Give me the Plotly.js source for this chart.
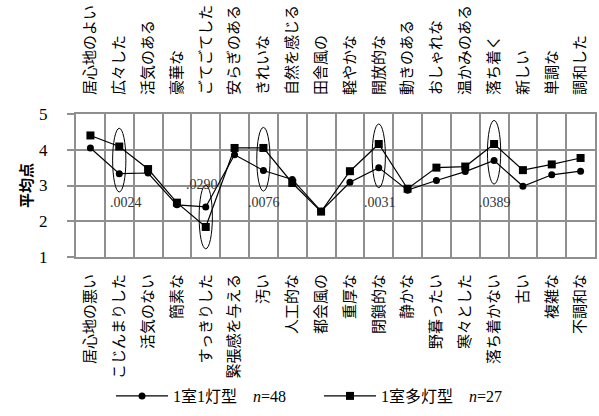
<!DOCTYPE html>
<html><head><meta charset="utf-8">
<script src="https://cdn.plot.ly/plotly-3.0.1.min.js"></script>
<style>html,body{margin:0;padding:0;background:#fff}#chart{width:599px;height:416px}</style>
</head><body><div id="chart"></div>
<script>
const topLabels = ['居心地のよい','広々した','活気のある','豪華な','ごてごてした','安らぎのある','きれいな','自然を感じる','田舎風の','軽やかな','開放的な','動きのある','おしゃれな','温かみのある','落ち着く','新しい','単調な','調和した'];
const bottomLabels = ['居心地の悪い','こじんまりした','活気のない','簡素な','すっきりした','緊張感を与える','汚い','人工的な','都会風の','重厚な','閉鎖的な','静かな','野暮ったい','寒々とした','落ち着かない','古い','複雑な','不調和な'];
const series1Name = '1室1灯型';
const series1N = 48;
const series1 = [4.05,3.33,3.35,2.46,2.40,3.86,3.42,3.17,2.28,3.09,3.50,2.87,3.14,3.39,3.70,2.98,3.30,3.40];
const series2Name = '1室多灯型';
const series2N = 27;
const series2 = [4.40,4.09,3.46,2.52,1.84,4.05,4.05,3.07,2.27,3.40,4.16,2.91,3.50,3.53,4.16,3.43,3.59,3.77];
const sigIndex = [1,4,6,10,14];
const sigP = ['.0024','.0290','.0076','.0031','.0389'];

// annotation placement (layout config)
const sigLabelY = [2.53, 3.03, 2.53, 2.53, 2.53];
const sigLabelShift = [7, -4, 1, 1, 1];

const idx = topLabels.map((_, i) => i);
const gridColor = '#8f8f8f';
const cjk = '"Noto Sans CJK JP", sans-serif';
const serif = '"Liberation Serif", "Noto Sans CJK JP", serif';
const nb = '\u00a0';

const traces = [
  {x: idx, y: series1, type: 'scatter', mode: 'lines+markers',
   name: series1Name + nb.repeat(4) + '<i>n</i>=' + series1N,
   line: {color: '#000', width: 1.2}, marker: {symbol: 'circle', size: 7, color: '#000'}},
  {x: idx, y: series2, type: 'scatter', mode: 'lines+markers',
   name: series2Name + nb.repeat(4) + '<i>n</i>=' + series2N,
   line: {color: '#000', width: 1.2}, marker: {symbol: 'square', size: 8, color: '#000'}},
  {x: idx, y: series1, xaxis: 'x2', type: 'scatter', mode: 'none', showlegend: false, hoverinfo: 'skip'}
];

const halfH = 0.89, halfW = 0.23;
const shapes = [], annotations = [];
sigIndex.forEach((i, k) => {
  const c = (series1[i] + series2[i]) / 2;
  shapes.push({type: 'circle', xref: 'x', yref: 'y', x0: i - halfW, x1: i + halfW,
    y0: c - halfH, y1: c + halfH, line: {color: '#000', width: 1}});
  annotations.push({x: i, y: sigLabelY[k], xref: 'x', yref: 'y',
    text: sigP[k], showarrow: false, xshift: sigLabelShift[k],
    font: {family: serif, size: 14, color: '#333'}});
});

const layout = {
  width: 599, height: 416,
  margin: {l: 76, r: 4, t: 114, b: 158},
  paper_bgcolor: '#fff', plot_bgcolor: '#fff',
  showlegend: true,
  xaxis: {range: [-0.5, 17.5], tickmode: 'array', tickvals: idx, ticktext: bottomLabels,
    tickangle: -90, tickfont: {family: cjk, size: 15, color: '#000'},
    showgrid: false, zeroline: false, showline: true, mirror: true, linecolor: gridColor, linewidth: 2,
    ticks: '', ticklabelstandoff: 9,
    minor: {tickmode: 'linear', tick0: -0.5, dtick: 1, showgrid: true, gridcolor: gridColor, gridwidth: 2, ticks: ''}},
  xaxis2: {overlaying: 'x', side: 'top', anchor: 'y', range: [-0.5, 17.5], tickmode: 'array', tickvals: idx,
    ticktext: topLabels, tickangle: -90, tickfont: {family: cjk, size: 15, color: '#000'},
    showgrid: false, zeroline: false, ticks: '', ticklabelstandoff: 18},
  yaxis: {range: [1, 5], tickmode: 'linear', tick0: 1, dtick: 1, showgrid: true, gridcolor: gridColor, gridwidth: 2,
    ticks: 'outside', ticklen: 7, tickwidth: 2, tickcolor: gridColor, ticklabelstandoff: 16,
    tickfont: {family: serif, size: 17, color: '#000'},
    title: {text: '<b>平均点</b>', font: {family: cjk, size: 15, color: '#000'}, standoff: 3},
    showline: true, mirror: true, linecolor: gridColor, linewidth: 2, zeroline: false},
  legend: {orientation: 'h', x: (111 - 76) / 519, xanchor: 'left', y: (258 - 396) / 144, yanchor: 'middle',
    font: {family: serif, size: 16, color: '#000'}, itemwidth: 52, entrywidth: 141, entrywidthmode: 'pixels',
    bgcolor: 'rgba(0,0,0,0)', traceorder: 'normal'},
  shapes: shapes,
  annotations: annotations
};

Plotly.newPlot('chart', traces, layout, {displayModeBar: false, staticPlot: true});
</script></body></html>
